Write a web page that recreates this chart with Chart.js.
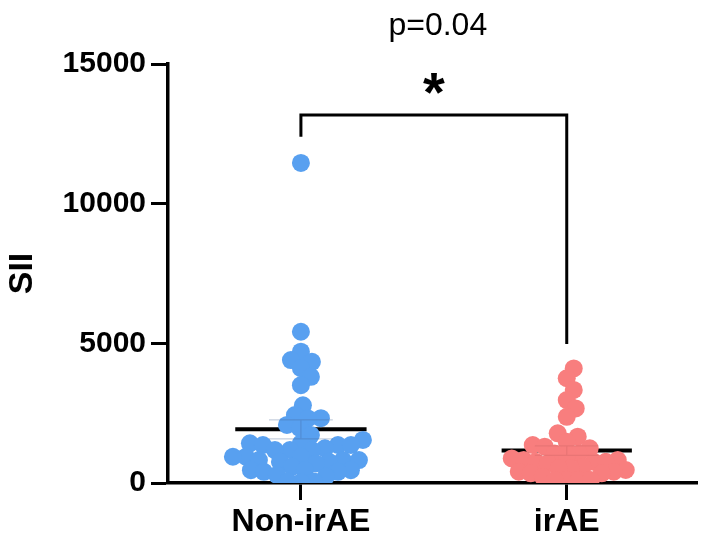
<!DOCTYPE html>
<html>
<head>
<meta charset="utf-8">
<script src="https://cdn.jsdelivr.net/npm/chart.js@4/dist/chart.umd.min.js"></script>
<style>
  html, body { margin: 0; padding: 0; background: #fff; }
  canvas { display: block; }
</style>
</head>
<body>
<canvas id="c" width="709" height="545"></canvas>
<script>
// ---- data ----
const categories = ['Non-irAE', 'irAE'];
const nonIrAE = [11460, 5415, 4700, 4400, 4340, 4110, 3800, 3500, 2780, 2430, 2320, 2310, 2080, 1960,
  1720, 1540, 1420, 1420, 1360, 1360, 1360, 1240, 1180, 1180, 1180, 940, 940, 940, 820, 820, 820,
  760, 760, 700, 580, 460, 460, 460, 400, 400, 290, 230, 50, 50, 30];
const irAE = [4100, 3750, 3330, 2970, 2670, 2370, 1780, 1660, 1480, 1360, 1300, 1240, 1060, 1060,
  1000, 880, 820, 820, 760, 760, 760, 700, 580, 525, 525, 465, 405, 405, 345, 345, 225, 110, 110, 110, 110];
const means = [1920, 1160];
const sems = [340, 170];
const yTicks = [0, 5000, 10000, 15000];
const bracketValues = [12400, 13170, 13170, 4980]; // left foot, top, top, right foot
const sigLabel = '*';
const pLabel = 'p=0.04';
const starValue = 14316;
const pValue = 16034;

const FONT = '"Liberation Sans", Arial, Helvetica, sans-serif';
Chart.defaults.font.family = FONT;
Chart.defaults.color = '#000';

const blue = '#58A0F0';
const red = '#F87E7E';

function seriesPoints(vals, cat) { return vals.map(v => ({ x: cat, y: v })); }
function meanLine(i, hw) { return [{ x: i + 1 - hw, y: means[i] }, { x: i + 1 + hw, y: means[i] }]; }
function errBar(i, hw) {
  const m = means[i], s = sems[i], c = i + 1;
  return [
    { x: c - hw, y: m + s }, { x: c + hw, y: m + s }, { x: c + hw, y: null },
    { x: c, y: m + s }, { x: c, y: m - s }, { x: c, y: null },
    { x: c - hw, y: m - s }, { x: c + hw, y: m - s }
  ];
}

const annot = {
  id: 'annot',
  afterDraw(chart) {
    const { ctx, scales: { x, y } } = chart;
    ctx.save();
    ctx.fillStyle = '#000';
    ctx.textAlign = 'center';
    ctx.textBaseline = 'alphabetic';
    ctx.font = 'bold 56px ' + FONT;
    const m = ctx.measureText(sigLabel);
    const cy = y.getPixelForValue(starValue);
    const px = x.getPixelForValue(1.5);
    ctx.fillText(sigLabel, px, cy + (m.actualBoundingBoxAscent - m.actualBoundingBoxDescent) / 2);
    ctx.font = '32px ' + FONT;
    ctx.fillText(pLabel, px + 4, y.getPixelForValue(pValue));
    ctx.restore();
  }
};

const lineDs = (data, color, width, order) => ({
  type: 'line', data, borderColor: color, borderWidth: width, pointRadius: 0,
  fill: false, spanGaps: false, order, clip: false, borderCapStyle: 'butt', borderJoinStyle: 'miter'
});

const chart = new Chart(document.getElementById('c'), {
  type: 'scatter',
  data: {
    datasets: [
      { label: categories[0], data: seriesPoints(nonIrAE, 1), backgroundColor: blue, borderWidth: 0, pointRadius: 9, pointHoverRadius: 9, order: 2 },
      { label: categories[1], data: seriesPoints(irAE, 2), backgroundColor: red, borderWidth: 0, pointRadius: 9, pointHoverRadius: 9, order: 2 },
      lineDs(meanLine(0, 0.247), '#000', 4, 3),
      lineDs(meanLine(1, 0.245), '#000', 4, 3),
      lineDs(errBar(0, 0.12), 'rgba(70,100,150,0.3)', 1.2, 1),
      lineDs(errBar(1, 0.12), 'rgba(150,70,70,0.15)', 1.2, 1),
      lineDs([{ x: 1, y: bracketValues[0] }, { x: 1, y: bracketValues[1] }, { x: 2, y: bracketValues[2] }, { x: 2, y: bracketValues[3] }], '#000', 3, 1)
    ]
  },
  options: {
    responsive: false,
    animation: false,
    events: [],
    layout: { padding: { top: 64, right: 12, left: 0, bottom: 0 } },
    plugins: { legend: { display: false }, tooltip: { enabled: false }, title: { display: false } },
    scales: {
      x: {
        type: 'linear', min: 0.5, max: 2.49,
        afterBuildTicks: s => { s.ticks = categories.map((c, i) => ({ value: i + 1 })); },
        afterFit: s => { s.height = 62; },
        ticks: { callback: v => categories[v - 1], font: { size: 32, weight: 'bold' }, color: '#000', padding: 3, maxRotation: 0, autoSkip: false },
        grid: { display: true, drawOnChartArea: false, drawTicks: true, tickLength: 17, tickWidth: 3, tickColor: '#000' },
        border: { display: true, color: '#000', width: 3.5 }
      },
      y: {
        type: 'linear', min: 0, max: 15000,
        afterBuildTicks: s => { s.ticks = yTicks.map(v => ({ value: v })); },
        afterFit: s => { s.width = 168; },
        ticks: { font: { size: 30, weight: 'bold' }, color: '#000', padding: 5, callback: v => String(v) },
        grid: { display: true, drawOnChartArea: false, drawTicks: true, tickLength: 17, tickWidth: 3, tickColor: '#000' },
        border: { display: true, color: '#000', width: 3.5 },
        title: { display: true, text: 'SII', font: { size: 34, weight: 'bold' }, color: '#000', padding: { top: 2, bottom: 0 } }
      }
    }
  },
  plugins: [annot]
});

// beeswarm layout computed from the values through the chart's own scales
function swarm(values, cat, D) {
  const xs = chart.scales.x, ys = chart.scales.y;
  const pxPerUnit = xs.getPixelForValue(2) - xs.getPixelForValue(1);
  const idx = values.map((v, i) => i).sort((a, b) => values[a] - values[b]);
  const placed = [];
  const out = new Array(values.length);
  for (const i of idx) {
    const py = ys.getPixelForValue(values[i]);
    let off = 0;
    for (let k = 0; k < 1000; k++) {
      const cand = k === 0 ? 0 : (k % 2 ? (k + 1) / 2 : -k / 2);
      let ok = true;
      for (const p of placed) {
        const dx = cand - p[0], dy = py - p[1];
        if (dx * dx + dy * dy < D * D) { ok = false; break; }
      }
      if (ok) { off = cand; break; }
    }
    placed.push([off, py]);
    out[i] = { x: cat + off / pxPerUnit, y: values[i] };
  }
  return out;
}
chart.data.datasets[0].data = swarm(nonIrAE, 1, 12.5);
chart.data.datasets[1].data = swarm(irAE, 2, 12);
chart.update('none');
</script>
</body>
</html>
